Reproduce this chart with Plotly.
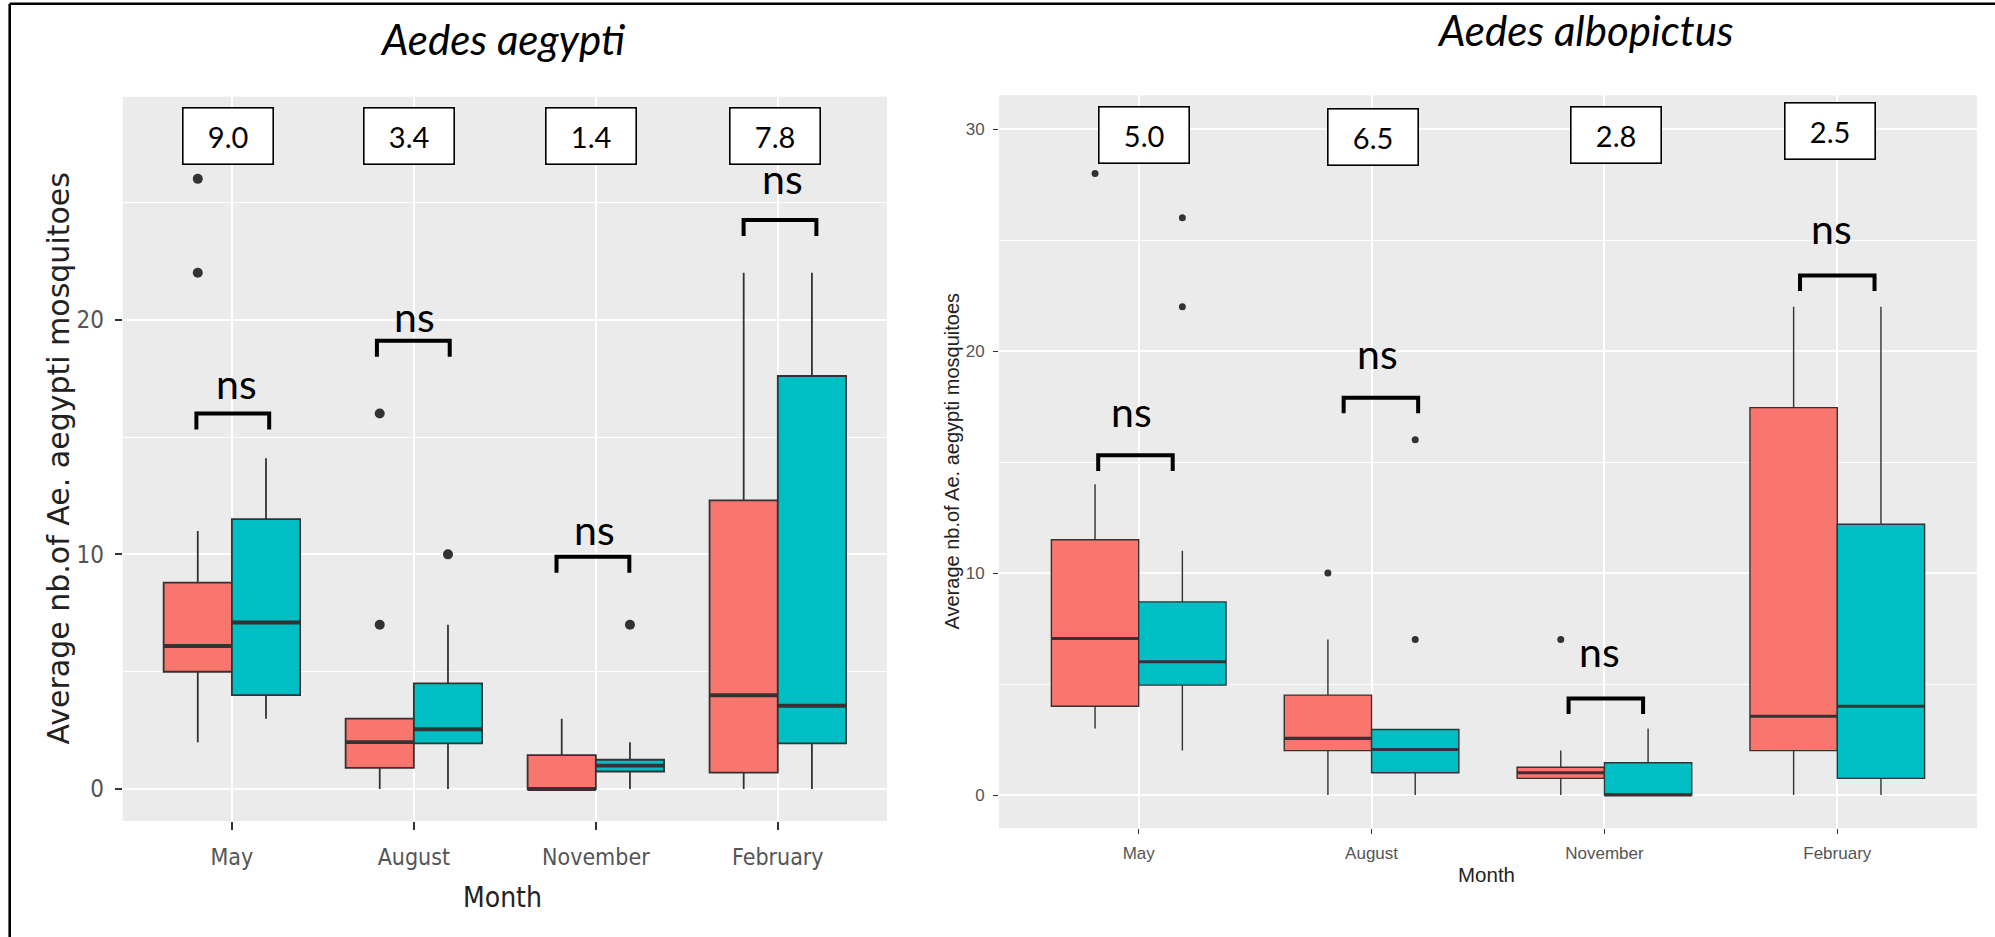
import plotly.graph_objects as go

W, H = 1995, 937

months = ["May", "August", "November", "February"]

# ---- Aedes aegypti: box statistics (group 1 = red, group 2 = teal) ----
aeg_g1_q1 = [5.0, 0.9, 0.0, 0.7]
aeg_g1_med = [6.1, 2.0, 0.0, 4.0]
aeg_g1_q3 = [8.8, 3.0, 1.45, 12.3]
aeg_g1_lo = [2.0, 0.0, 0.0, 0.0]
aeg_g1_hi = [11.0, 3.0, 3.0, 22.0]
aeg_g1_out_month = ["May", "May", "August", "August"]
aeg_g1_out_val = [26.0, 22.0, 16.0, 7.0]

aeg_g2_q1 = [4.0, 1.95, 0.75, 1.95]
aeg_g2_med = [7.1, 2.55, 1.0, 3.55]
aeg_g2_q3 = [11.5, 4.5, 1.25, 17.6]
aeg_g2_lo = [3.0, 0.0, 0.0, 0.0]
aeg_g2_hi = [14.1, 7.0, 2.0, 22.0]
aeg_g2_out_month = ["August", "November"]
aeg_g2_out_val = [10.0, 7.0]

aeg_ratio = ["9.0", "3.4", "1.4", "7.8"]
aeg_test = ["ns", "ns", "ns", "ns"]

# ---- Aedes albopictus ----
alb_g1_q1 = [4.0, 2.0, 0.75, 2.0]
alb_g1_med = [7.05, 2.55, 1.0, 3.55]
alb_g1_q3 = [11.5, 4.5, 1.25, 17.45]
alb_g1_lo = [3.0, 0.0, 0.0, 0.0]
alb_g1_hi = [14.0, 7.0, 2.0, 22.0]
alb_g1_out_month = ["May", "August", "November"]
alb_g1_out_val = [28.0, 10.0, 7.0]

alb_g2_q1 = [4.95, 1.0, 0.0, 0.75]
alb_g2_med = [6.0, 2.05, 0.0, 4.0]
alb_g2_q3 = [8.7, 2.95, 1.45, 12.2]
alb_g2_lo = [2.0, 0.0, 0.0, 0.0]
alb_g2_hi = [11.0, 2.95, 3.0, 22.0]
alb_g2_out_month = ["May", "May", "August", "August"]
alb_g2_out_val = [26.0, 22.0, 16.0, 7.0]

alb_ratio = ["5.0", "6.5", "2.8", "2.5"]
alb_test = ["ns", "ns", "ns", "ns"]

# ---- styling / layout helpers ----
RED = "#F8766D"
TEAL = "#00BFC4"
EDGE = "#333333"
PANEL = "#EBEBEB"
DODGE = 0.1875
BOXW = 0.375
pos = {m: i + 1 for i, m in enumerate(months)}


def px_x(px):
    return px / W


def px_y(py):
    return 1 - py / H


fig = go.Figure()


def add_panel(xa, ya, g1, g2, outs1, outs2, lw, msize):
    for stats, color, off, outs in ((g1, RED, -DODGE, outs1), (g2, TEAL, DODGE, outs2)):
        q1, med, q3, lo, hi = stats
        xs = [pos[m] + off for m in months]
        fig.add_trace(go.Box(
            x=xs, q1=q1, median=med, q3=q3, lowerfence=lo, upperfence=hi,
            width=BOXW, fillcolor=color, line=dict(color=EDGE, width=lw),
            whiskerwidth=0, boxpoints=False, showlegend=False,
            xaxis=xa, yaxis=ya, hoverinfo="skip",
        ))
        # thicker median bar, as in ggplot
        mx, my = [], []
        for x, m in zip(xs, med):
            mx += [x - BOXW / 2, x + BOXW / 2, None]
            my += [m, m, None]
        fig.add_trace(go.Scatter(
            x=mx, y=my, mode="lines", line=dict(color=EDGE, width=lw * 2.2),
            showlegend=False, xaxis=xa, yaxis=ya, hoverinfo="skip",
        ))
        om, ov = outs
        fig.add_trace(go.Scatter(
            x=[pos[m] + off for m in om], y=ov, mode="markers",
            marker=dict(color=EDGE, size=msize), showlegend=False,
            xaxis=xa, yaxis=ya, hoverinfo="skip",
        ))


add_panel("x", "y",
          (aeg_g1_q1, aeg_g1_med, aeg_g1_q3, aeg_g1_lo, aeg_g1_hi),
          (aeg_g2_q1, aeg_g2_med, aeg_g2_q3, aeg_g2_lo, aeg_g2_hi),
          (aeg_g1_out_month, aeg_g1_out_val), (aeg_g2_out_month, aeg_g2_out_val),
          1.8, 10)
add_panel("x2", "y2",
          (alb_g1_q1, alb_g1_med, alb_g1_q3, alb_g1_lo, alb_g1_hi),
          (alb_g2_q1, alb_g2_med, alb_g2_q3, alb_g2_lo, alb_g2_hi),
          (alb_g1_out_month, alb_g1_out_val), (alb_g2_out_month, alb_g2_out_val),
          1.4, 7)

NARROW = "DejaVu Sans Condensed, Liberation Sans Narrow, Arial Narrow, Liberation Sans, sans-serif"
SANS = "Liberation Sans, Arial, sans-serif"
WIDE = "DejaVu Sans, Liberation Sans, sans-serif"
CAL = "Lato, Carlito, Calibri, sans-serif"

common_x = dict(range=[0.4, 4.6], tickvals=[1, 2, 3, 4], ticktext=months,
                showgrid=True, gridcolor="white", zeroline=False, showline=False,
                ticks="outside", tickcolor=EDGE, fixedrange=True)
common_y = dict(showgrid=True, gridcolor="white", zeroline=False, showline=False,
                ticks="outside", tickcolor=EDGE, fixedrange=True,
                tickvals=[0, 10, 20, 30])

fig.update_layout(
    width=W, height=H, margin=dict(l=0, r=0, t=0, b=0),
    paper_bgcolor="white", plot_bgcolor=PANEL, showlegend=False,
    xaxis=dict(common_x, domain=[px_x(122.7), px_x(887)], anchor="y",
               gridwidth=2, ticklen=8, tickwidth=1.6,
               tickfont=dict(family=NARROW, size=23, color="#555555"),
               ticklabelstandoff=7),
    yaxis=dict(common_y, domain=[px_y(821), px_y(96.7)], anchor="x",
               range=[-1.36, 29.5], gridwidth=2, ticklen=7, tickwidth=1.6,
               minor=dict(tickvals=[5, 15, 25], showgrid=True, gridcolor="white", gridwidth=1),
               tickfont=dict(family=NARROW, size=24, color="#555555"),
               ticklabelstandoff=6),
    xaxis2=dict(common_x, domain=[px_x(999), px_x(1977)], anchor="y2",
                gridwidth=1.5, ticklen=5, tickwidth=1.3,
                tickfont=dict(family=SANS, size=17, color="#555555"),
                ticklabelstandoff=4),
    yaxis2=dict(common_y, domain=[px_y(828.3), px_y(95.3)], anchor="x2",
                range=[-1.5, 31.52], gridwidth=1.5, ticklen=5, tickwidth=1.3,
                minor=dict(tickvals=[5, 15, 25], showgrid=True, gridcolor="white", gridwidth=1),
                tickfont=dict(family=SANS, size=17, color="#555555"),
                ticklabelstandoff=5),
)


def paper_text(text, x, y, font, angle=0):
    return dict(text=text, x=px_x(x), y=px_y(y), xref="paper", yref="paper",
                xanchor="center", yanchor="middle", textangle=angle,
                showarrow=False, font=font)


# ---- panel titles and axis titles ----
ann = [
    paper_text("<i>Aedes aegypti</i>", 503, 39, dict(family=CAL, size=42, color="black")),
    paper_text("<i>Aedes albopictus</i>", 1585, 30, dict(family=CAL, size=42, color="black")),
    paper_text("Average nb.of Ae. aegypti mosquitoes", 58, 458.5,
               dict(family=WIDE, size=30, color="#222222"), -90),
    paper_text("Average nb.of Ae. aegypti mosquitoes", 951, 461.5,
               dict(family=SANS, size=20, color="#222222"), -90),
    paper_text("Month", 503, 897.5, dict(family=NARROW, size=28, color="#222222")),
    paper_text("Month", 1486.5, 874, dict(family=SANS, size=20.5, color="#222222")),
]

# ---- ratio boxes above each month ----
aeg_label_y = [136.5, 136.5, 136.5, 136.5]
aeg_label_dx = [-4, -5, -5, -3]
alb_label_y = [134.5, 136.6, 135.4, 131.2]
alb_label_dx = [5, 1, 12, -7]
for xr, labels, ly, dx in (("x", aeg_ratio, aeg_label_y, aeg_label_dx),
                           ("x2", alb_ratio, alb_label_y, alb_label_dx)):
    for m, t, yy, d in zip(months, labels, ly, dx):
        ann.append(dict(text=t, x=pos[m], y=px_y(yy), xref=xr, yref="paper", xshift=d,
                        xanchor="center", yanchor="middle",
                        showarrow=False, bgcolor="white", bordercolor="black",
                        borderwidth=1.6, borderpad=0, width=89, height=55,
                        font=dict(family=CAL, size=29, color="black")))

# ---- significance brackets ----
aeg_bar_y = [16.0, 19.1, 9.9, 24.25]
aeg_bar_dx = [0.005, -0.003, -0.016, 0.012]
aeg_ns_y = [17.1, 19.95, 10.9, 25.85]
aeg_ns_dx = [5, 1, -1, 5]
alb_bar_y = [15.3, 17.9, 4.35, 23.4]
alb_bar_dx = [-0.014, 0.04, 0.006, 0.0]
alb_ns_y = [17.1, 19.7, 6.3, 25.35]
alb_ns_dx = [-7, 6, -5, -6]

shapes = []
for xr, yr, by, bdx, half, drop, ny, ndx, tests in (
        ("x", "y", aeg_bar_y, aeg_bar_dx, 0.2, 0.68, aeg_ns_y, aeg_ns_dx, aeg_test),
        ("x2", "y2", alb_bar_y, alb_bar_dx, 0.16, 0.7, alb_ns_y, alb_ns_dx, alb_test)):
    for m, b, d, yy, nd, t in zip(months, by, bdx, ny, ndx, tests):
        c = pos[m] + d
        path = f"M {c - half},{b - drop} L {c - half},{b} L {c + half},{b} L {c + half},{b - drop}"
        shapes.append(dict(type="path", path=path, xref=xr, yref=yr,
                           line=dict(color="black", width=4)))
        ann.append(dict(text=t, x=pos[m], y=yy, xref=xr, yref=yr, xshift=nd, yshift=4,
                        xanchor="center", yanchor="middle",
                        showarrow=False, font=dict(family=CAL, size=41, color="black")))

# outer frame (left and top edges)
shapes.append(dict(type="line", xref="paper", yref="paper", x0=px_x(9.7), x1=px_x(9.7),
                   y0=0, y1=px_y(3.7), line=dict(color="black", width=2.6)))
shapes.append(dict(type="line", xref="paper", yref="paper", x0=px_x(9.7), x1=1,
                   y0=px_y(3.7), y1=px_y(3.7), line=dict(color="black", width=2.6)))

fig.update_layout(annotations=ann, shapes=shapes)
fig.write_html("out.html")
